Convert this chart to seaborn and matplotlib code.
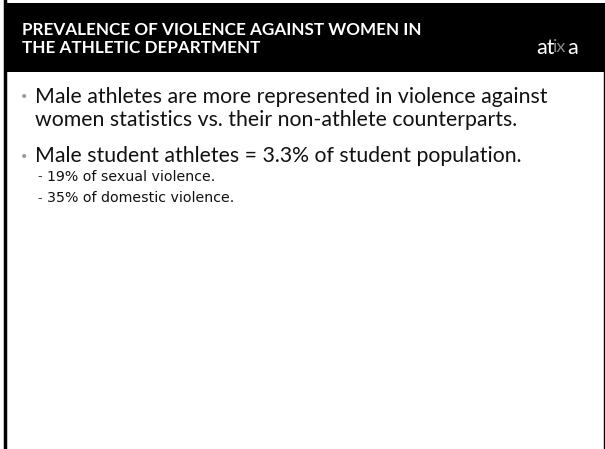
import matplotlib.pyplot as plt
import seaborn as sns

sns.set_theme(style="white")
plt.rcParams['font.family'] = ['Lato', 'DejaVu Sans']

# Slide content
title_lines = ['PREVALENCE OF VIOLENCE AGAINST WOMEN IN', 'THE ATHLETIC DEPARTMENT']
bullets = [
    ['Male athletes are more represented in violence against',
     'women statistics vs. their non-athlete counterparts.'],
    ['Male student athletes = 3.3% of student population.'],
]
sub_bullets = ['19% of sexual violence.', '35% of domestic violence.']

fig = plt.figure(figsize=(6.05, 4.49), dpi=100)
ax = fig.add_axes([0, 0, 1, 1])
ax.set_xlim(0, 605)
ax.set_ylim(449, 0)
ax.axis('off')

# header band and slide edges
ax.add_patch(plt.Rectangle((4, 3), 601, 69, color='black', lw=0))
ax.plot([5, 5], [0, 449], color='black', lw=2.5)
ax.plot([603.5, 603.5], [72, 449], color='black', lw=1)

# title
for i, line in enumerate(title_lines):
    ax.text(22, 30 + i * 18, line, color='white', fontsize=12.3, fontweight='bold',
            va='center', ha='left')

# logo
ax.text(536, 48, 'at', color='white', fontsize=15.5, va='center', ha='left')
ax.text(553, 47, 'ix', color='#888888', fontsize=13, va='center', ha='left')
ax.text(567, 48, 'a', color='white', fontsize=15.5, va='center', ha='left')

# bullets
y = 97
for group in bullets:
    ax.text(21, y, '\u2022', color='#999999', fontsize=8, va='center', ha='left')
    for line in group:
        ax.text(35, y, line, color='#111111', fontsize=15.3, va='center', ha='left')
        y += 23
    y += 13

y = 177
for line in sub_bullets:
    ax.text(37, y, '-', color='#333333', fontsize=9, va='center', ha='left',
            family='DejaVu Sans')
    ax.text(47, y, line, color='#111111', fontsize=10.2, va='center', ha='left',
            family='DejaVu Sans')
    y += 21.5

fig.savefig('out.png', dpi=100)
